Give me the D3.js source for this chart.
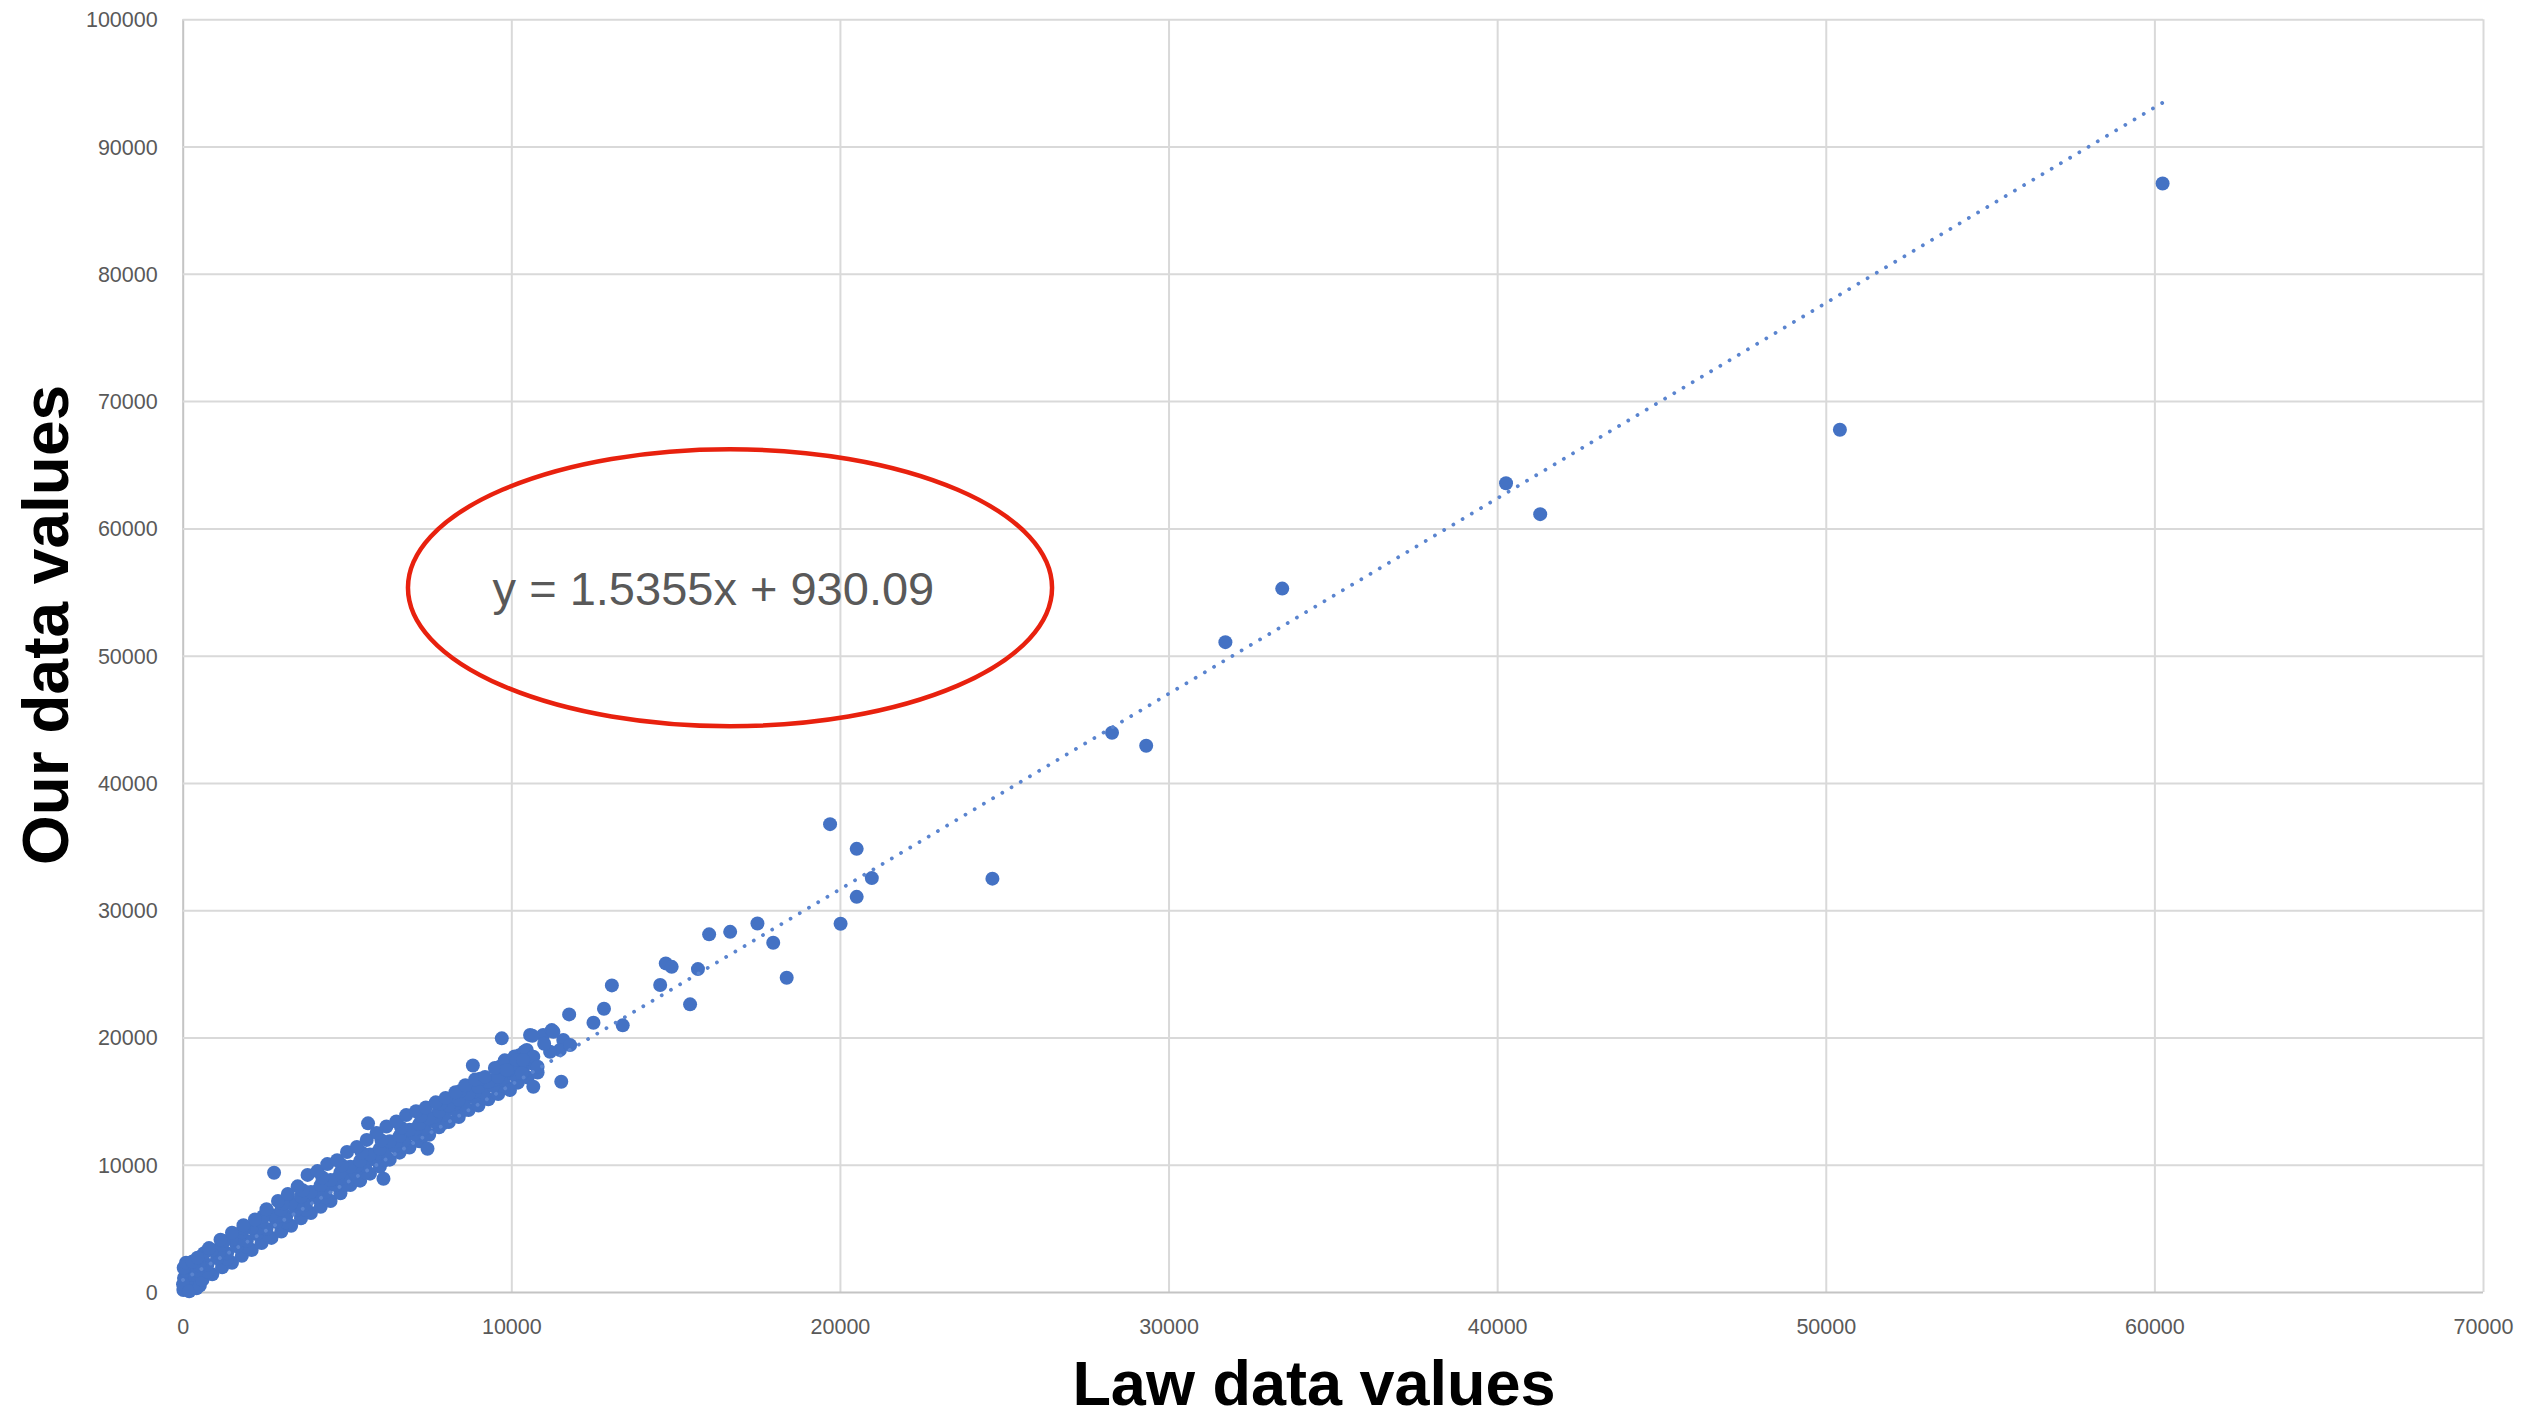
<!DOCTYPE html>
<html>
<head>
<meta charset="utf-8">
<script src="https://cdn.jsdelivr.net/npm/d3@7"></script>
<style>
  html, body { margin: 0; padding: 0; background: #ffffff; }
  svg { display: block; }
</style>
</head>
<body>
<svg id="chart" width="2542" height="1421"></svg>
<script>
// Axis ticks
const xTicks = [0, 10000, 20000, 30000, 40000, 50000, 60000, 70000];
const yTicks = [0, 10000, 20000, 30000, 40000, 50000, 60000, 70000, 80000, 90000, 100000];

// Linear fit shown on the chart
const trendSlope = 1.5355;
const trendIntercept = 930.09;
const equationText = "y = 1.5355x + 930.09";

// Axis titles
const xTitle = "Law data values";
const yTitle = "Our data values";

// Observations: [law value, our value]
const originCluster = [
  [20,150],[60,420],[120,800],[40,1100],[180,1350],[90,1650],[250,1900],[300,600],
  [380,1200],[150,2050],[420,300],[480,900],[30,1900],[260,300],[10,600],[200,50],
  [100,2300],[330,2200],[550,1300],[520,500]
];
const bandLower = [
  [600,950],[900,1400],[1200,1950],[1500,2300],[1800,2850],[2100,3300],[2400,3850],[2700,4250],
  [3000,4750],[3300,5200],[3600,5800],[3900,6200],[4200,6700],[4500,7150],[4800,7750],[5100,8400],
  [5400,8750],[5700,9300],[6000,9850],[6300,10400],[6600,10950],[6900,11350],[7200,11850],[7500,12350],
  [7800,12950],[8100,13350],[8400,13750],[8700,14300],[9000,14650],[9300,15150],[9600,15550],[9900,16050],
  [10200,16450],[10500,16850],[10800,17250]
];
const bandLowerInner = [
  [750,1600],[1350,2600],[1950,3550],[2550,4500],[3150,5450],[3750,6450],[4350,7450],[4950,8400],
  [5550,9400],[6150,10350],[6750,11400],[7350,12300],[7950,13300],[8550,14300],[9150,15250],[9750,16200],
  [10350,17200]
];
const bandMidLow = [
  [450,1700],[750,2150],[1050,2650],[1350,3050],[1650,3600],[1950,4000],[2250,4550],[2550,4950],
  [2850,5500],[3150,5950],[3450,6450],[3750,6900],[4050,7450],[4350,7850],[4650,8400],[4950,8950],
  [5250,9350],[5550,9900],[5850,10400],[6150,10900],[6450,11450],[6750,11900],[7050,12400],[7350,12850],
  [7650,13400],[7950,13900],[8250,14350],[8550,14750],[8850,15300],[9150,15700],[9450,16200],[9750,16650],
  [10050,17100],[10350,17550],[10650,17950]
];
const bandCentre = [
  [500,2100],[1100,3050],[1700,4050],[2300,5000],[2900,5950],[3500,6950],[4100,7950],[4700,8900],
  [5300,9900],[5900,10900],[6500,11850],[7100,12850],[7700,13800],[8300,14800],[8900,15750],[9500,16700],
  [10100,17700]
];
const bandMidHigh = [
  [300,2400],[600,2850],[900,3300],[1200,3700],[1500,4150],[1800,4700],[2100,5050],[2400,5550],
  [2700,6050],[3000,6450],[3300,6950],[3600,7500],[3900,7850],[4200,8400],[4500,8800],[4800,9400],
  [5100,9850],[5400,10300],[5700,10800],[6000,11250],[6300,11850],[6600,12250],[6900,12750],[7200,13200],
  [7500,13650],[7800,14200],[8100,14650],[8400,15100],[8700,15550],[9000,16100],[9300,16500],[9600,16900],
  [9900,17400],[10200,17900],[10500,18300]
];
const bandUpperInner = [
  [650,3050],[1250,4000],[1850,5000],[2450,5950],[3050,6950],[3650,8000],[4250,9000],[4850,9950],
  [5450,10950],[6050,11900],[6650,12900],[7250,13850],[7850,14800],[8450,15800],[9050,16750],[9650,17700],
  [10250,18600]
];
const bandUpper = [
  [450,2700],[800,3450],[1150,4100],[1500,4650],[1850,5250],[2200,5700],[2550,6500],[2900,7150],
  [3200,7700],[3500,8300],[3800,9200],[4100,9500],[4400,10050],[4700,10350],[5000,11000],[5300,11400],
  [5600,11950],[5900,12500],[6200,13000],[6500,13400],[6800,13900],[7100,14200],[7400,14500],[7700,14900],
  [8000,15250],[8300,15700],[8600,16250],[8900,16700],[9200,16900],[9500,17600],[9800,18200],[10100,18500],
  [10400,18900]
];
const bandStrays = [
  [2780,9370],[5640,13250],[6110,8900],[7450,11260],[8830,17800],[9710,19930]
];
const clusterPoints = [
  [10570,20190],[10970,20190],[11230,20580],[11580,19800],[11480,19010],[11790,19400],[11180,18880],
  [10470,19010],[10670,18480],[10160,18220],[9860,17440],[10320,17180],[10670,16130],[9960,15870],
  [11520,16520],[10640,20130],[11280,20450],[10360,18220],[11000,19500],[10800,17700]
];
const tailPoints = [
  [11760,21810],[12500,21160],[12820,22250],[13060,24090],[13390,20950],[14530,24120],[14700,25820],
  [14880,25550],[15440,22600],[15680,25370],[16020,28100],[16660,28300],[17490,28960],[17970,27440],
  [18380,24690],[19700,36760],[20020,28930],[20510,34820],[20510,31050],[20970,32520],[24640,32480],
  [28280,43940],[29320,42920],[31730,51060],[33460,55270],[40270,63550],[41310,61120],[50430,67750],
  [60250,87100]
];

// Highlight ellipse around the equation, in data units: centre and half-extents
const calloutCenter = [16655, 55340];
const calloutHalfSize = [9800, 10880];

const allPoints = [].concat(originCluster, bandLower, bandLowerInner, bandMidLow, bandCentre,
                            bandMidHigh, bandUpperInner, bandUpper, bandStrays, clusterPoints, tailPoints);

const svg = d3.select("#chart");
const margin = { left: 182.7, top: 19.3, right: 2542 - 2483, bottom: 1421 - 1292 };
const width = 2542 - margin.left - margin.right;
const height = 1421 - margin.top - margin.bottom;

const x = d3.scaleLinear().domain([0, 70000]).range([0, width]);
const y = d3.scaleLinear().domain([0, 100000]).range([height, 0]);

const g = svg.append("g").attr("transform", `translate(${margin.left},${margin.top})`);

const tickFont = "'Liberation Sans', Arial, sans-serif";

// Vertical gridlines + x tick labels
const xAxis = g.append("g")
  .attr("transform", `translate(0,${height})`)
  .call(d3.axisBottom(x).tickValues(xTicks).tickSize(-height).tickFormat(d3.format("d")));
xAxis.select(".domain").remove();
xAxis.selectAll(".tick line")
  .attr("stroke", d => d === 0 ? "#c4c4c4" : "#d9d9d9")
  .attr("stroke-width", 2);
xAxis.selectAll(".tick text")
  .attr("y", 34).attr("dy", "0.35em")
  .attr("fill", "#595959")
  .style("font-family", tickFont).style("font-size", "21.5px");

// Horizontal gridlines + y tick labels
const yAxis = g.append("g")
  .call(d3.axisLeft(y).tickValues(yTicks).tickSize(-width).tickFormat(d3.format("d")));
yAxis.select(".domain").remove();
yAxis.selectAll(".tick line")
  .attr("stroke", d => d === 0 ? "#c4c4c4" : "#d9d9d9")
  .attr("stroke-width", 2);
yAxis.selectAll(".tick text")
  .attr("x", -25).attr("dy", "0.35em")
  .attr("fill", "#595959")
  .style("font-family", tickFont).style("font-size", "21.5px");

// Scatter markers
g.append("g")
  .selectAll("circle")
  .data(allPoints)
  .join("circle")
  .attr("cx", d => x(d[0]))
  .attr("cy", d => y(d[1]))
  .attr("r", 7)
  .attr("fill", "#4472c4");

// Dotted linear trendline spanning the observed law values
const xExtent = d3.extent(allPoints, d => d[0]);
const trend = xExtent.map(v => [v, trendSlope * v + trendIntercept]);
g.append("line")
  .attr("x1", x(trend[0][0])).attr("y1", y(trend[0][1]))
  .attr("x2", x(trend[1][0])).attr("y2", y(trend[1][1]))
  .attr("stroke", "#5a84cf")
  .attr("stroke-width", 3.8)
  .attr("stroke-linecap", "round")
  .attr("stroke-dasharray", "0.01 10.7");

// Fit equation
g.append("text")
  .attr("x", x(16150))
  .attr("y", y(53970))
  .attr("text-anchor", "middle")
  .attr("fill", "#595959")
  .style("font-family", tickFont)
  .style("font-size", "47px")
  .text(equationText);

// Red highlight ellipse
g.append("ellipse")
  .attr("cx", x(calloutCenter[0]))
  .attr("cy", y(calloutCenter[1]))
  .attr("rx", x(calloutHalfSize[0]) - x(0))
  .attr("ry", y(0) - y(calloutHalfSize[1]))
  .attr("fill", "none")
  .attr("stroke", "#e8210e")
  .attr("stroke-width", 4.5);

// Axis titles
svg.append("text")
  .attr("x", 1314)
  .attr("y", 1405)
  .attr("text-anchor", "middle")
  .attr("fill", "#000000")
  .style("font-family", "'Liberation Sans', Arial, sans-serif")
  .style("font-weight", "bold")
  .style("font-size", "63px")
  .text(xTitle);

svg.append("text")
  .attr("transform", "translate(68,625) rotate(-90)")
  .attr("text-anchor", "middle")
  .attr("fill", "#000000")
  .style("font-family", "'Liberation Sans', Arial, sans-serif")
  .style("font-weight", "bold")
  .style("font-size", "64px")
  .text(yTitle);
</script>
</body>
</html>
